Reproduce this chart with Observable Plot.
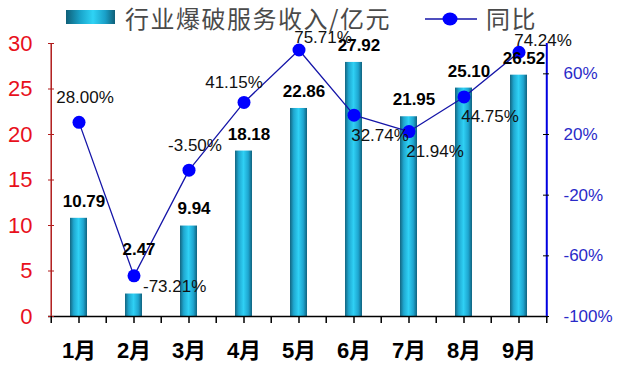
<!DOCTYPE html>
<html><head><meta charset="utf-8">
<script src="https://cdn.jsdelivr.net/npm/d3@7"></script>
<script src="https://cdn.jsdelivr.net/npm/@observablehq/plot@0.6"></script>
<style>
body{margin:0;background:#fff;}
#wrap{position:relative;width:619px;height:368px;font-family:"Liberation Sans",Arial,"Noto Sans CJK SC",sans-serif;overflow:hidden;}
#legend{position:absolute;left:0;top:0;width:619px;height:40px;z-index:2;}
.sw{position:absolute;left:66px;top:10px;width:49px;height:14px;background:linear-gradient(to right,#0f5f78 0%,#1aa6cc 30%,#2fd3f5 55%,#1aa0c8 80%,#0f5f78 100%);}
.lt{position:absolute;top:2px;font-size:24px;color:#4a4a4a;font-family:"Noto Sans CJK SC",sans-serif;line-height:32px;letter-spacing:1.5px;}
.ll{position:absolute;left:424px;top:9px;}
</style></head><body>
<div id="wrap">
  <div id="legend">
    <div class="sw"></div>
    <div class="lt" style="left:125px;">行业爆破服务收入/亿元</div>
    <svg class="ll" width="54" height="20"><line x1="1" y1="10" x2="53" y2="10" stroke="#1515a8" stroke-width="1.5"/><ellipse cx="26" cy="10" rx="7.5" ry="6.5" fill="#0000ff"/></svg>
    <div class="lt" style="left:486px;">同比</div>
  </div>
</div>
<script>
const months = ["1月","2月","3月","4月","5月","6月","7月","8月","9月"];
const revenue = [10.79, 2.47, 9.94, 18.18, 22.86, 27.92, 21.95, 25.10, 26.52];
const yoy = [28.00, -73.21, -3.50, 41.15, 75.71, 32.74, 21.94, 44.75, 74.24];
const leftTicks = [0, 5, 10, 15, 20, 25, 30];
const rightTicks = [-100, -60, -20, 20, 60];
// label placement keywords (where each label sits relative to its point)
const yoySide = ["n", "e", "n", "nw", "ne", "se", "se", "se", "ne"];
const revenueSide = ["top", "high", "top", "top", "top", "top", "top", "top", "top"];

const W = 619, H = 368, mL = 48, mR = 71, mT = 43, mB = 52;
const step = (W - mL - mR) / months.length;
const toLeft = p => (p + 100) / 180 * 30; // right-axis % -> left-axis units

const data = months.map((m, i) => ({month: m, revenue: revenue[i], yoy: yoy[i], yv: toLeft(yoy[i]),
  pctText: yoy[i].toFixed(2) + "%", revText: revenue[i].toFixed(2), side: yoySide[i], rside: revenueSide[i]}));

const sideOff = {
  n: {dx: 6, dy: -25, textAnchor: "middle"},
  e: {dx: 9, dy: 11, textAnchor: "start"},
  nw: {dx: -10, dy: -20, textAnchor: "middle"},
  ne: {dx: 24, dy: -12, textAnchor: "middle"},
  se: {dx: 26, dy: 20, textAnchor: "middle"}
};
const rOff = {top: -17, high: -44};

const pctMarks = Object.entries(sideOff).map(([k, o]) =>
  Plot.text(data.filter(d => d.side === k), {x: "month", y: "yv", text: "pctText", fontSize: 17, fill: "#111", ...o}));
const revMarks = Object.entries(rOff).map(([k, dy]) =>
  Plot.text(data.filter(d => d.rside === k), {x: "month", y: "revenue", text: "revText", dy, dx: 5, fontSize: 17, fontWeight: "bold", fill: "#000"}));

const svg = Plot.plot({
  width: W, height: H,
  marginLeft: mL, marginRight: mR, marginTop: mT, marginBottom: mB,
  style: {fontFamily: "'Liberation Sans', Arial, 'Noto Sans CJK SC', sans-serif", background: "transparent", overflow: "visible"},
  x: {domain: months, paddingInner: 0.7, paddingOuter: 0.35, label: null},
  y: {domain: [0, 30], label: null},
  marks: [
    Plot.barY(data, {x: "month", y: "revenue", fill: "url(#barGrad)"}),
    Plot.line(data, {x: "month", y: "yv", stroke: "#1515a8", strokeWidth: 1.3}),
    Plot.dot(data, {x: "month", y: "yv", r: 6.5, fill: "#0000ff", stroke: "none"}),
    ...revMarks,
    ...pctMarks,
    Plot.ruleY([0], {stroke: "#000", strokeWidth: 1.5}),
    Plot.ruleX([months[0]], {dx: -step / 2, stroke: "#b01c1c", strokeWidth: 1.5}),
    Plot.ruleX([months[months.length - 1]], {dx: step / 2, stroke: "#0000e0", strokeWidth: 2}),
    Plot.axisY({anchor: "left", ticks: leftTicks, tickSize: -6, tickPadding: 22, stroke: "#b01c1c", fill: "#e8101c", fontSize: 22, label: null}),
    Plot.axisY({anchor: "right", ticks: rightTicks.map(toLeft), tickFormat: d => Math.round(d * 6 - 100) + "%", tickSize: -6, tickPadding: 21, stroke: "#000", fill: "#2a2ac8", fontSize: 17, label: null}),
    Plot.axisX({tickSize: 7, tickPadding: 19, fontSize: 22, fontWeight: "bold", fill: "#000", stroke: "#000", strokeWidth: 1.5, label: null}),
    Plot.axisX({ticks: months, dx: -step / 2, tickSize: 7, tickFormat: () => "", stroke: "#000", strokeWidth: 1.5, label: null}),
    Plot.axisX({ticks: [months[months.length - 1]], dx: step / 2, tickSize: 7, tickFormat: () => "", stroke: "#000", strokeWidth: 1.5, label: null})
  ]
});

const defs = d3.select(svg).insert("defs", ":first-child");
const g = defs.append("linearGradient").attr("id", "barGrad").attr("x1", "0").attr("x2", "1").attr("y1", "0").attr("y2", "0");
[["0%", "#146580"], ["22%", "#1fa8d0"], ["50%", "#2fd0f4"], ["78%", "#1ea6d0"], ["100%", "#10627e"]]
  .forEach(([o, c]) => g.append("stop").attr("offset", o).attr("stop-color", c));

svg.style.position = "absolute";
svg.style.left = "0"; svg.style.top = "0";
document.getElementById("wrap").appendChild(svg);
</script>
</body></html>
